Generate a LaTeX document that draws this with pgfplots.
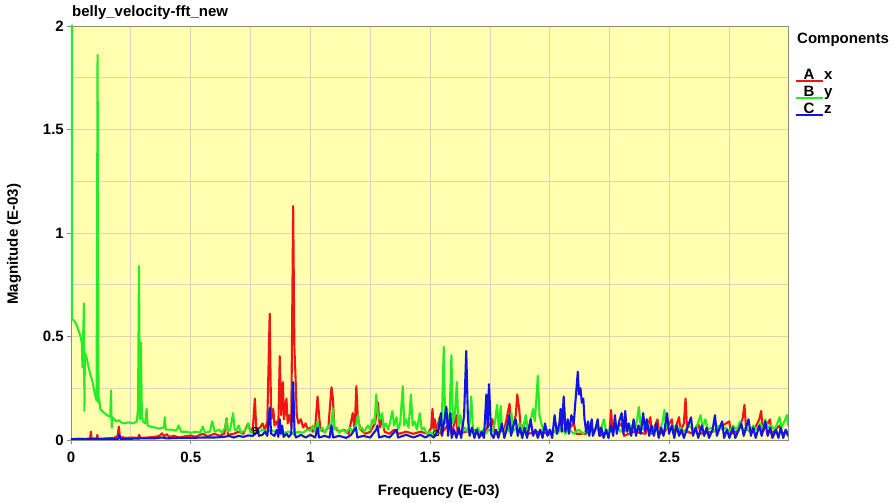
\documentclass[border=0pt]{standalone}
\usepackage{fontspec}
\setmainfont{Liberation Sans}
\usepackage{pgfplots}
\pgfplotsset{compat=1.18}

\definecolor{plotbg}{RGB}{255,255,175}
\definecolor{gridc}{RGB}{218,214,178}
\definecolor{framec}{RGB}{140,140,128}
\definecolor{compA}{RGB}{240,20,20}
\definecolor{compB}{RGB}{40,235,40}
\definecolor{compC}{RGB}{20,20,225}
\newcommand{\lblfont}{\fontsize{15}{18}\selectfont\bfseries}

\begin{document}
\begin{tikzpicture}
\begin{axis}[
  scale only axis, width=717pt, height=414pt,
  xmin=0, xmax=2.995, ymin=0, ymax=2,
  axis background/.style={fill=plotbg},
  xtick={0,0.5,1,1.5,2,2.5}, ytick={0,0.5,1,1.5,2},
  minor xtick={0.25,0.75,1.25,1.75,2.25,2.75},
  minor ytick={0.25,0.75,1.25,1.75},
  grid=both,
  major grid style={gridc, line width=0.7pt},
  minor grid style={gridc, line width=0.7pt},
  axis line style={framec, line width=0.8pt},
  tick style={framec, line width=0.8pt},
  tick align=outside, tick pos=left,
  major tick length=4pt, minor tick length=0pt,
  /pgf/number format/assume math mode=true,
  tick label style={font=\lblfont, inner sep=0pt},
  xticklabel style={anchor=north, yshift=-8pt},
  yticklabel style={anchor=east, xshift=-3pt},
  xlabel={Frequency (E-03)}, ylabel={Magnitude (E-03)},
  every axis x label/.style={at={(axis description cs:0.513,-0.1256)}, anchor=center, font=\lblfont},
  every axis y label/.style={at={(axis description cs:-0.0795,0.473)}, anchor=center, rotate=90, font=\lblfont},
  every axis plot/.append style={line width=2.1pt, line join=round, line cap=round},
]

% A: x component
\addplot[compA] coordinates {
(0,0.004) (0.03,0.006) (0.06,0.004) (0.08,0.008) (0.083,0.04) (0.086,0.006) (0.108,0.006) (0.11,0.025) (0.113,0.005)
(0.15,0.008) (0.18,0.01) (0.195,0.02) (0.2,0.065) (0.204,0.015) (0.23,0.01) (0.26,0.012) (0.28,0.01) (0.285,0.025)
(0.29,0.01) (0.32,0.012) (0.35,0.015) (0.37,0.02) (0.38,0.032) (0.39,0.018) (0.4,0.028) (0.41,0.015) (0.43,0.02)
(0.45,0.012) (0.48,0.018) (0.5,0.022) (0.52,0.015) (0.55,0.03) (0.57,0.018) (0.6,0.03) (0.62,0.02) (0.64,0.03)
(0.65,0.105) (0.656,0.025) (0.68,0.03) (0.7,0.04) (0.72,0.03) (0.74,0.08) (0.75,0.04) (0.76,0.06) (0.768,0.2)
(0.774,0.05) (0.79,0.06) (0.8,0.08) (0.81,0.05) (0.82,0.09) (0.83,0.61) (0.836,0.1) (0.845,0.15) (0.85,0.07)
(0.86,0.09) (0.866,0.06) (0.872,0.405) (0.878,0.12) (0.885,0.28) (0.89,0.1) (0.9,0.2) (0.905,0.08) (0.912,0.12)
(0.92,0.07) (0.928,1.13) (0.933,0.45) (0.938,0.3) (0.943,0.12) (0.95,0.08) (0.96,0.1) (0.97,0.06) (0.98,0.08)
(0.99,0.05) (1.0,0.06) (1.01,0.04) (1.02,0.06) (1.03,0.21) (1.036,0.12) (1.042,0.05) (1.06,0.04) (1.075,0.06)
(1.088,0.255) (1.094,0.2) (1.1,0.06) (1.12,0.04) (1.14,0.05) (1.16,0.03) (1.177,0.13) (1.185,0.05) (1.192,0.26)
(1.198,0.1) (1.21,0.05) (1.23,0.03) (1.25,0.04) (1.27,0.08) (1.282,0.18) (1.29,0.06) (1.3,0.1) (1.31,0.04)
(1.33,0.03) (1.35,0.05) (1.37,0.03) (1.4,0.04) (1.43,0.03) (1.46,0.04) (1.49,0.03) (1.505,0.06) (1.51,0.15)
(1.515,0.05) (1.52,0.1) (1.525,0.04) (1.54,0.11) (1.545,0.03) (1.58,0.08) (1.59,0.03) (1.61,0.12) (1.615,0.03)
(1.65,0.04) (1.7,0.05) (1.72,0.02) (1.76,0.1) (1.77,0.03) (1.81,0.05) (1.832,0.175) (1.84,0.04) (1.858,0.12)
(1.864,0.22) (1.872,0.15) (1.88,0.04) (1.9,0.1) (1.91,0.03) (1.95,0.04) (2.0,0.03) (2.05,0.06) (2.06,0.16)
(2.067,0.04) (2.1,0.08) (2.11,0.03) (2.15,0.03) (2.2,0.06) (2.21,0.02) (2.25,0.05) (2.256,0.145) (2.262,0.04)
(2.3,0.08) (2.31,0.02) (2.35,0.04) (2.4,0.03) (2.42,0.11) (2.426,0.03) (2.45,0.1) (2.456,0.03) (2.48,0.04)
(2.51,0.1) (2.516,0.03) (2.54,0.11) (2.546,0.04) (2.56,0.08) (2.567,0.2) (2.574,0.04) (2.6,0.03) (2.62,0.08)
(2.63,0.03) (2.68,0.04) (2.75,0.09) (2.756,0.03) (2.78,0.04) (2.805,0.1) (2.813,0.17) (2.82,0.05) (2.85,0.04)
(2.875,0.1) (2.883,0.14) (2.89,0.04) (2.92,0.1) (2.926,0.03) (2.96,0.07) (2.97,0.03) (2.995,0.04)
};

% B: y component
\addplot[compB] coordinates {
(0.003,2.6) (0.003,0.585) (0.01,0.58) (0.02,0.565) (0.03,0.535) (0.04,0.5) (0.045,0.47) (0.048,0.35) (0.05,0.46)
(0.054,0.66) (0.056,0.14) (0.058,0.42) (0.065,0.4) (0.07,0.37) (0.08,0.32) (0.09,0.28) (0.1,0.22) (0.107,0.19)
(0.111,1.86) (0.115,0.18) (0.118,0.2) (0.122,0.15) (0.13,0.14) (0.14,0.13) (0.15,0.12) (0.16,0.115) (0.164,0.11)
(0.167,0.24) (0.17,0.06) (0.173,0.11) (0.18,0.1) (0.19,0.09) (0.2,0.095) (0.21,0.085) (0.22,0.08) (0.24,0.085)
(0.26,0.08) (0.275,0.09) (0.28,0.15) (0.284,0.84) (0.288,0.1) (0.292,0.47) (0.296,0.12) (0.3,0.09) (0.31,0.08)
(0.316,0.15) (0.32,0.07) (0.33,0.065) (0.35,0.06) (0.37,0.055) (0.388,0.06) (0.392,0.11) (0.396,0.05) (0.42,0.05)
(0.44,0.045) (0.45,0.07) (0.46,0.04) (0.48,0.04) (0.5,0.035) (0.52,0.04) (0.54,0.035) (0.55,0.065) (0.56,0.035)
(0.58,0.04) (0.59,0.09) (0.6,0.04) (0.62,0.05) (0.63,0.035) (0.645,0.06) (0.65,0.1) (0.656,0.04) (0.665,0.05)
(0.677,0.13) (0.684,0.05) (0.69,0.045) (0.7,0.07) (0.71,0.035) (0.72,0.04) (0.735,0.06) (0.74,0.08) (0.75,0.035)
(0.76,0.04) (0.78,0.035) (0.8,0.05) (0.82,0.04) (0.835,0.05) (0.85,0.04) (0.87,0.045) (0.89,0.035) (0.91,0.04)
(0.93,0.03) (0.95,0.04) (0.97,0.035) (0.985,0.05) (1.0,0.045) (1.01,0.07) (1.02,0.04) (1.03,0.09) (1.036,0.04)
(1.05,0.06) (1.06,0.035) (1.075,0.07) (1.085,0.05) (1.094,0.15) (1.1,0.05) (1.11,0.06) (1.12,0.035) (1.135,0.05)
(1.15,0.035) (1.165,0.06) (1.175,0.04) (1.19,0.07) (1.2,0.12) (1.206,0.05) (1.215,0.06) (1.225,0.04) (1.24,0.07)
(1.25,0.05) (1.26,0.1) (1.268,0.08) (1.275,0.22) (1.282,0.12) (1.29,0.1) (1.3,0.13) (1.306,0.06) (1.315,0.08)
(1.325,0.05) (1.334,0.09) (1.342,0.14) (1.35,0.07) (1.36,0.11) (1.366,0.05) (1.375,0.08) (1.386,0.26) (1.392,0.07)
(1.4,0.1) (1.41,0.06) (1.42,0.22) (1.427,0.07) (1.435,0.09) (1.445,0.05) (1.457,0.13) (1.465,0.05) (1.475,0.06)
(1.485,0.03) (1.5,0.04) (1.51,0.03) (1.52,0.05) (1.53,0.03) (1.54,0.1) (1.548,0.05) (1.557,0.45) (1.563,0.08)
(1.572,0.12) (1.58,0.06) (1.589,0.41) (1.595,0.08) (1.603,0.12) (1.612,0.28) (1.618,0.06) (1.627,0.12) (1.635,0.04)
(1.645,0.06) (1.655,0.04) (1.665,0.08) (1.672,0.21) (1.679,0.05) (1.69,0.04) (1.7,0.06) (1.71,0.03) (1.72,0.05)
(1.73,0.03) (1.745,0.05) (1.76,0.04) (1.77,0.08) (1.78,0.17) (1.787,0.05) (1.795,0.165) (1.8,0.05) (1.81,0.04)
(1.822,0.07) (1.83,0.04) (1.84,0.13) (1.846,0.04) (1.86,0.06) (1.875,0.08) (1.885,0.04) (1.9,0.12) (1.907,0.05)
(1.918,0.08) (1.93,0.15) (1.937,0.09) (1.943,0.18) (1.95,0.31) (1.957,0.12) (1.965,0.08) (1.975,0.04) (1.99,0.05)
(2.0,0.03) (2.015,0.05) (2.03,0.03) (2.05,0.06) (2.065,0.03) (2.08,0.05) (2.1,0.03) (2.12,0.05) (2.14,0.03)
(2.16,0.06) (2.18,0.04) (2.2,0.07) (2.21,0.04) (2.226,0.1) (2.235,0.04) (2.25,0.05) (2.265,0.04) (2.28,0.07)
(2.295,0.04) (2.31,0.06) (2.325,0.04) (2.34,0.07) (2.355,0.05) (2.365,0.1) (2.372,0.16) (2.38,0.06) (2.395,0.05)
(2.41,0.08) (2.425,0.04) (2.44,0.06) (2.455,0.04) (2.47,0.08) (2.479,0.145) (2.487,0.06) (2.5,0.05) (2.515,0.07)
(2.53,0.05) (2.545,0.06) (2.56,0.04) (2.58,0.07) (2.6,0.05) (2.615,0.07) (2.63,0.12) (2.638,0.06) (2.65,0.1)
(2.66,0.05) (2.675,0.06) (2.69,0.04) (2.705,0.07) (2.72,0.05) (2.735,0.06) (2.75,0.04) (2.765,0.07) (2.78,0.05)
(2.795,0.09) (2.805,0.05) (2.82,0.06) (2.835,0.04) (2.85,0.07) (2.865,0.05) (2.88,0.08) (2.89,0.05) (2.9,0.1)
(2.91,0.06) (2.925,0.07) (2.94,0.05) (2.95,0.08) (2.96,0.11) (2.968,0.06) (2.98,0.09) (2.99,0.12) (2.995,0.07)
};

% C: z component
\addplot[compC] coordinates {
(0,0.004) (0.05,0.005) (0.1,0.006) (0.15,0.005) (0.198,0.006) (0.202,0.025) (0.206,0.006) (0.25,0.006) (0.3,0.008)
(0.35,0.008) (0.38,0.012) (0.4,0.008) (0.45,0.01) (0.5,0.01) (0.55,0.012) (0.6,0.012) (0.64,0.015) (0.66,0.02)
(0.68,0.012) (0.7,0.02) (0.72,0.015) (0.74,0.022) (0.76,0.02) (0.775,0.035) (0.78,0.05) (0.785,0.02) (0.8,0.025)
(0.81,0.04) (0.82,0.02) (0.83,0.155) (0.836,0.03) (0.85,0.02) (0.86,0.05) (0.866,0.015) (0.872,0.1) (0.876,0.03)
(0.882,0.07) (0.888,0.015) (0.9,0.03) (0.91,0.015) (0.92,0.03) (0.928,0.28) (0.934,0.03) (0.94,0.012) (0.96,0.025)
(0.98,0.012) (1.0,0.025) (1.02,0.012) (1.03,0.06) (1.036,0.012) (1.06,0.02) (1.08,0.012) (1.088,0.07) (1.095,0.012)
(1.12,0.02) (1.15,0.01) (1.17,0.025) (1.19,0.06) (1.196,0.012) (1.22,0.02) (1.25,0.012) (1.275,0.05) (1.28,0.07)
(1.287,0.012) (1.31,0.02) (1.33,0.012) (1.36,0.05) (1.366,0.012) (1.4,0.025) (1.43,0.012) (1.46,0.025) (1.48,0.012)
(1.5,0.025) (1.515,0.012) (1.525,0.03) (1.535,0.05) (1.545,0.13) (1.55,0.02) (1.56,0.1) (1.568,0.16) (1.575,0.02)
(1.585,0.13) (1.59,0.01) (1.6,0.05) (1.61,0.01) (1.62,0.06) (1.63,0.01) (1.642,0.12) (1.651,0.43) (1.658,0.1)
(1.665,0.02) (1.675,0.06) (1.685,0.01) (1.695,0.05) (1.705,0.01) (1.715,0.04) (1.725,0.01) (1.735,0.22) (1.74,0.06)
(1.746,0.27) (1.755,0.03) (1.765,0.01) (1.775,0.05) (1.785,0.01) (1.8,0.08) (1.81,0.01) (1.82,0.05) (1.83,0.12)
(1.838,0.02) (1.848,0.07) (1.858,0.1) (1.866,0.02) (1.875,0.06) (1.885,0.01) (1.895,0.06) (1.905,0.01) (1.92,0.1)
(1.93,0.02) (1.94,0.05) (1.95,0.01) (1.96,0.05) (1.97,0.01) (1.98,0.08) (1.99,0.02) (2.0,0.05) (2.01,0.01)
(2.02,0.12) (2.03,0.03) (2.04,0.08) (2.045,0.15) (2.05,0.04) (2.058,0.21) (2.065,0.04) (2.075,0.1) (2.08,0.03)
(2.09,0.12) (2.1,0.08) (2.108,0.2) (2.117,0.33) (2.122,0.22) (2.128,0.25) (2.134,0.18) (2.14,0.2) (2.145,0.1)
(2.152,0.04) (2.16,0.09) (2.165,0.02) (2.175,0.1) (2.18,0.02) (2.19,0.05) (2.2,0.1) (2.207,0.02) (2.215,0.06)
(2.225,0.01) (2.235,0.05) (2.245,0.01) (2.255,0.07) (2.265,0.02) (2.272,0.12) (2.28,0.03) (2.29,0.09) (2.3,0.13)
(2.308,0.03) (2.315,0.14) (2.322,0.04) (2.33,0.08) (2.34,0.02) (2.35,0.1) (2.36,0.02) (2.37,0.07) (2.38,0.03)
(2.39,0.13) (2.398,0.04) (2.405,0.1) (2.415,0.02) (2.425,0.07) (2.435,0.02) (2.445,0.08) (2.455,0.01) (2.465,0.06)
(2.475,0.02) (2.49,0.13) (2.498,0.03) (2.51,0.07) (2.52,0.01) (2.53,0.07) (2.54,0.02) (2.55,0.05) (2.56,0.01)
(2.575,0.06) (2.59,0.11) (2.598,0.02) (2.61,0.06) (2.62,0.01) (2.635,0.07) (2.645,0.02) (2.655,0.06) (2.665,0.01)
(2.68,0.05) (2.69,0.12) (2.698,0.02) (2.71,0.06) (2.72,0.09) (2.728,0.01) (2.74,0.05) (2.75,0.01) (2.765,0.06)
(2.775,0.01) (2.79,0.05) (2.8,0.08) (2.81,0.02) (2.82,0.06) (2.83,0.1) (2.84,0.02) (2.85,0.06) (2.86,0.01)
(2.875,0.07) (2.885,0.02) (2.9,0.09) (2.91,0.02) (2.92,0.06) (2.93,0.01) (2.945,0.05) (2.955,0.01) (2.965,0.06)
(2.975,0.01) (2.985,0.05) (2.995,0.02)
};

% curve identifier symbols
\addplot[only marks, mark=text, text mark={\fontsize{10}{10}\selectfont\bfseries B}, mark options={black}] coordinates {(0.772,0.045)};
\addplot[only marks, mark=o, mark size=2.8pt, mark options={black, line width=0.9pt}] coordinates {(1.526,0.033)};
\end{axis}

% title
\node[anchor=base west, inner sep=0pt, font=\lblfont] at ([xshift=1pt,yshift=9pt]current axis.north west) {belly\_velocity-fft\_new};

% component key
\node[anchor=west, inner sep=0pt, font=\lblfont] at ([xshift=9pt,yshift=-14pt]current axis.north east) {Components};
\foreach \l/\c/\n/\dy/\ly in {A/compA/x/54/55, B/compB/y/71/72, C/compC/z/88/89} {
  \draw[\c, line width=1.8pt] ([xshift=8pt,yshift=-\ly pt]current axis.north east) -- ++(27pt,0);
  \node[anchor=base, inner sep=0pt, font=\lblfont] at ([xshift=21pt,yshift=-\dy pt]current axis.north east) {\l};
  \node[anchor=base west, inner sep=0pt, font=\lblfont] at ([xshift=36pt,yshift=-\dy pt]current axis.north east) {\n};
}

\path[use as bounding box] ([shift={(-71pt,-63pt)}]current axis.south west) rectangle ([shift={(106pt,26pt)}]current axis.north east);
\end{tikzpicture}
\end{document}
